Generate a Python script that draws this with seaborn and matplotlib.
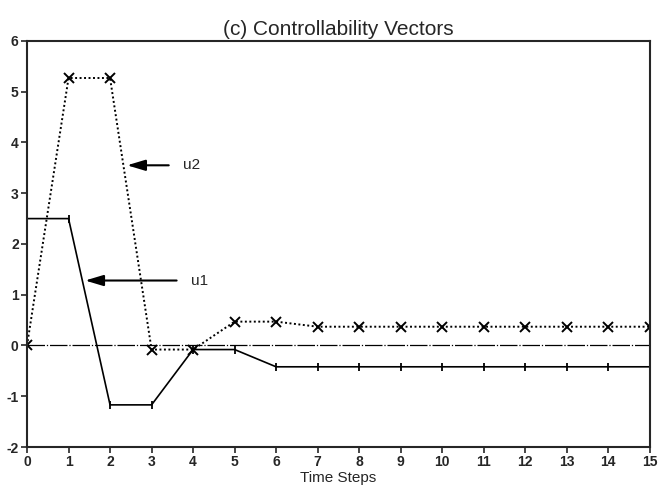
import matplotlib
matplotlib.use("Agg")
import matplotlib.pyplot as plt
import pandas as pd
import seaborn as sns

# values
steps = list(range(16))
u1 = [2.5, 2.5, -1.17, -1.17, -0.08, -0.08, -0.42, -0.42, -0.42, -0.42,
      -0.42, -0.42, -0.42, -0.42, -0.42, -0.42]
u2 = [0.0, 5.27, 5.27, -0.08, -0.08, 0.47, 0.47, 0.37, 0.37, 0.37,
      0.37, 0.37, 0.37, 0.37, 0.37, 0.37]

df = pd.DataFrame({"step": steps, "u1": u1, "u2": u2})

sns.set_style("ticks")
plt.rcParams['font.family'] = ['Liberation Sans', 'DejaVu Sans']
plt.rcParams['axes.unicode_minus'] = False

fig = plt.figure(figsize=(6.59, 4.97), dpi=100)
ax = fig.add_axes([0.041, 0.1006, 0.945, 0.817])

ax.axhline(0, color="black", lw=0.9, ls="-.", dashes=(14, 1.5, 1, 1.5))

sns.lineplot(data=df, x="step", y="u1", ax=ax, color="black", lw=1.2,
             marker="|", markersize=6, markeredgewidth=1.3,
             markeredgecolor="black")
sns.lineplot(data=df, x="step", y="u2", ax=ax, color="black", lw=1.4,
             ls=(0, (1, 1.3)), marker="x", markersize=7, markeredgewidth=1.4,
             markeredgecolor="black")

ax.annotate("u2", xy=(2.41, 3.55), xytext=(3.76, 3.55), va="center",
            fontsize=11,
            arrowprops=dict(arrowstyle="-|>,head_length=1.0,head_width=0.3",
                            color="black", lw=1.5, shrinkB=0, shrinkA=8))
ax.annotate("u1", xy=(1.4, 1.28), xytext=(3.95, 1.28), va="center",
            fontsize=11,
            arrowprops=dict(arrowstyle="-|>,head_length=1.0,head_width=0.3",
                            color="black", lw=1.5, shrinkB=0, shrinkA=8))

ax.set_xlim(0, 15)
ax.set_ylim(-2, 6)
ax.set_xticks(range(16))
ax.set_yticks(range(-2, 7))
ax.tick_params(direction="out", length=4, width=1.2, labelsize=10, pad=2)
for lab in ax.get_xticklabels() + ax.get_yticklabels():
    lab.set_fontweight("bold")
for sp in ax.spines.values():
    sp.set_linewidth(1.5)

ax.set_title("(c) Controllability Vectors", fontsize=15, pad=4)
ax.set_xlabel("Time Steps", fontsize=11, labelpad=1)
ax.set_ylabel("")

plt.savefig("out.png", dpi=100)
